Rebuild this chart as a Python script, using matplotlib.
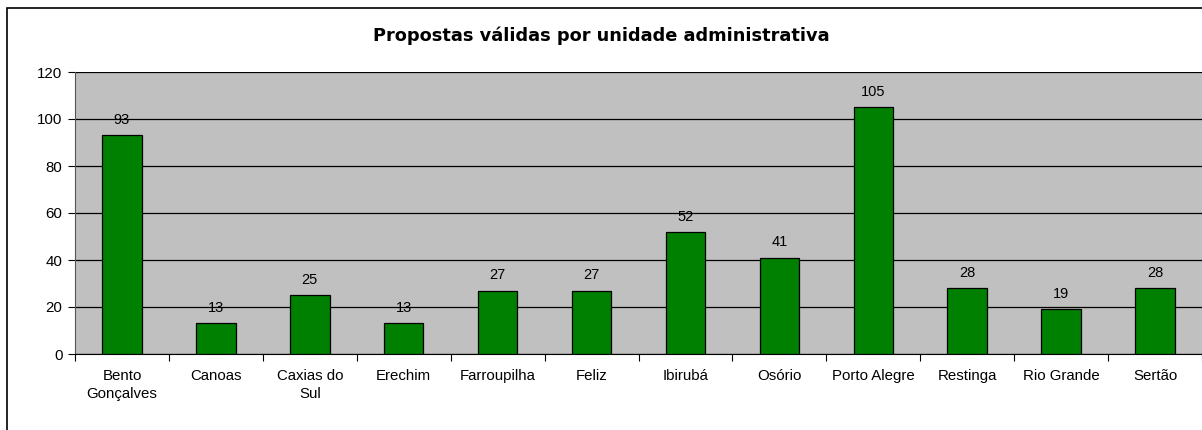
import matplotlib.pyplot as plt
from matplotlib.patches import Rectangle

unidades = ["Bento\nGonçalves", "Canoas", "Caxias do\nSul", "Erechim", "Farroupilha", "Feliz",
            "Ibirubá", "Osório", "Porto Alegre", "Restinga", "Rio Grande", "Sertão"]
propostas = [93, 13, 25, 13, 27, 27, 52, 41, 105, 28, 19, 28]
yticks = [0, 20, 40, 60, 80, 100, 120]

plt.rcParams['font.family'] = ['Liberation Sans', 'DejaVu Sans']

fig = plt.figure(figsize=(12.02, 4.3), dpi=100)
# moldura do gráfico (cortada à direita e embaixo)
fig.patches.append(Rectangle((7/1202, -0.05), 1.2, 1 - 8/430 + 0.05, transform=fig.transFigure,
                             fill=False, edgecolor="black", linewidth=1.2))

ax = fig.add_axes([75/1202, 1 - 354/430, 1 - 75/1202, (354 - 72)/430])
ax.set_facecolor("#c0c0c0")

x = list(range(len(unidades)))
ax.bar(x, propostas, width=0.42, color="#008000", edgecolor="black", linewidth=0.9, zorder=3)
for xi, v in zip(x, propostas):
    ax.text(xi, v + 3.5, str(v), ha="center", va="bottom", fontsize=10.5, zorder=4)

ax.set_xlim(-0.5, len(unidades) - 0.5)
ax.set_ylim(0, 120)
ax.set_yticks(yticks)
ax.set_yticklabels([str(t) for t in yticks], fontsize=10.8)
ax.yaxis.grid(True, color="black", linewidth=0.9, zorder=1)
ax.set_axisbelow(True)

ax.set_xticks([i + 0.5 for i in range(-1, len(unidades))])
ax.set_xticklabels([])
ax.set_xticks(x, minor=True)
ax.set_xticklabels(unidades, minor=True, fontsize=10.8, va="top", linespacing=1.3)
ax.tick_params(axis="x", which="minor", length=0, pad=11)
ax.tick_params(axis="x", which="major", length=5, color="black")
ax.tick_params(axis="y", length=5, pad=4)

for s in ["top", "right"]:
    ax.spines[s].set_visible(False)
ax.spines["left"].set_color("#555555")
ax.spines["bottom"].set_color("black")

fig.text(0.5, 1 - 36/430, "Propostas válidas por unidade administrativa", ha="center", va="center",
         fontsize=12.8, fontweight="bold", family="DejaVu Sans")

fig.savefig("out.png", dpi=100)
